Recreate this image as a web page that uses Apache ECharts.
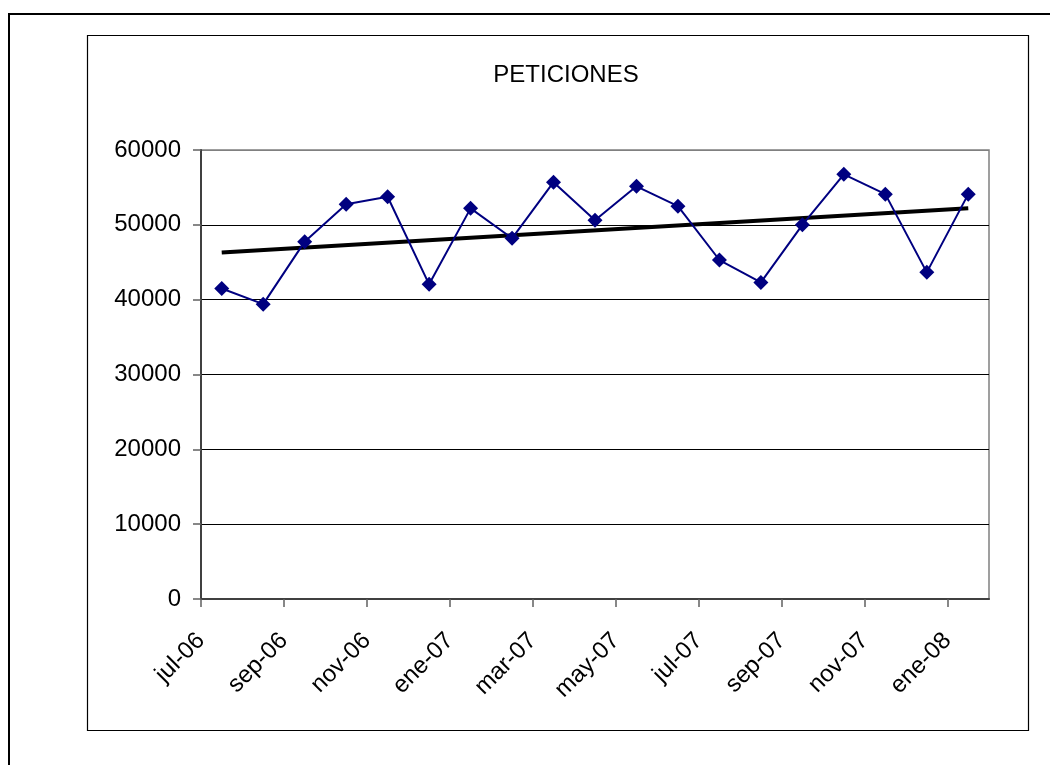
<!DOCTYPE html>
<html>
<head>
<meta charset="utf-8">
<script src="https://cdn.jsdelivr.net/npm/echarts@6/dist/echarts.min.js"></script>
<style>
html,body{margin:0;padding:0;background:#fff;}
#chart{width:1050px;height:765px;}
</style>
</head>
<body>
<div id="chart"></div>
<script>
const months = ['jul-06','ago-06','sep-06','oct-06','nov-06','dic-06','ene-07','feb-07','mar-07','abr-07','may-07','jun-07','jul-07','ago-07','sep-07','oct-07','nov-07','dic-07','ene-08'];
const peticiones = [41500,39400,47750,52750,53750,42050,52200,48200,55700,50600,55150,52500,45300,42300,50000,56750,54100,43650,54100];
const tickLabelIdx = [0,2,4,6,8,10,12,14,16,18];
const yTicks = [0,10000,20000,30000,40000,50000,60000];
const trendStart = 46300;
const trendEnd = 52200;

const chart = echarts.init(document.getElementById('chart'));
const font = 'Liberation Sans, Arial, sans-serif';
chart.setOption({
  animation:false,
  backgroundColor:'#fff',
  title:{text:'PETICIONES',left:561,top:58,textAlign:'center',
    textStyle:{fontFamily:font,fontSize:24,fontWeight:'normal',color:'#000'}},
  graphic:[
    {type:'rect',shape:{x:9,y:14,width:1060,height:770},style:{fill:null,stroke:'#000',lineWidth:2},z:-10},
    {type:'rect',shape:{x:87.5,y:35.5,width:941,height:695},style:{fill:null,stroke:'#000',lineWidth:1.2},z:-10}
  ],
  grid:{left:201,top:150,right:61,bottom:166,show:true,borderColor:'#808080',borderWidth:1.5,backgroundColor:'#fff'},
  xAxis:{type:'value',min:0,max:months.length,interval:2,
    axisLine:{show:true,onZero:false,lineStyle:{color:'#404040',width:2}},
    axisTick:{show:true,length:8,customValues:tickLabelIdx,lineStyle:{color:'#606060',width:1.5}},
    splitLine:{show:false},
    axisLabel:{customValues:tickLabelIdx,rotate:45,margin:38,formatter:v=>months[v]||'',
      fontFamily:font,fontSize:24,color:'#000'}},
  yAxis:{type:'value',min:0,max:60000,interval:10000,
    axisLine:{show:true,lineStyle:{color:'#404040',width:2}},
    axisTick:{show:true,length:8,lineStyle:{color:'#606060',width:1.5}},
    splitLine:{show:true,lineStyle:{color:['#000','#000','#000','#000','#000','#000','#808080'],width:1}},
    axisLabel:{margin:20,fontFamily:font,fontSize:24,color:'#000',formatter:v=>String(v)}},
  series:[
    {type:'line',data:[[0.5,trendStart],[months.length-0.5,trendEnd]],symbol:'none',
      lineStyle:{color:'#000',width:4},z:3},
    {type:'line',data:peticiones.map((v,i)=>[i+0.5,v]),symbol:'diamond',symbolSize:[15,15],
      lineStyle:{color:'#000080',width:2},itemStyle:{color:'#000080'},z:4}
  ]
});
</script>
</body>
</html>
